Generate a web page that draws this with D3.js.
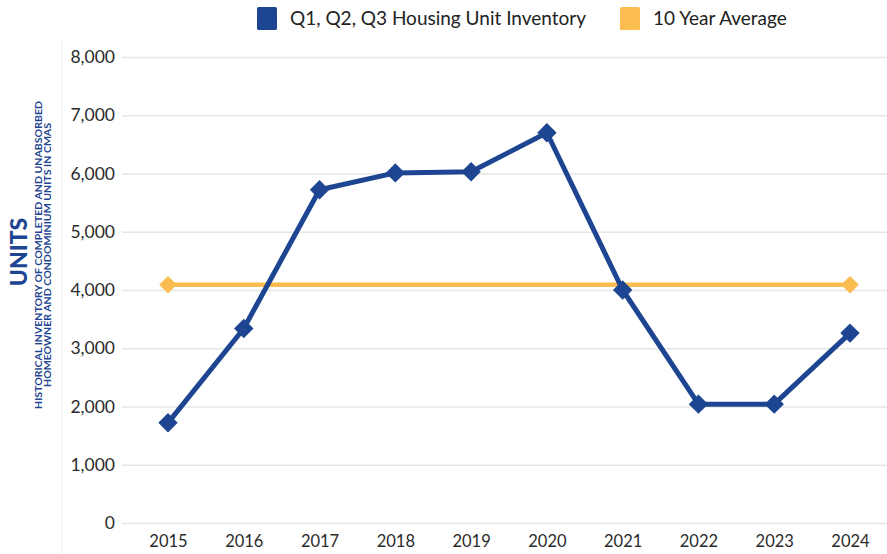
<!DOCTYPE html>
<html>
<head>
<meta charset="utf-8">
<style>
body { margin: 0; background: #fff; }
text { font-family: "Lato", "Open Sans", sans-serif; }
</style>
</head>
<body>
<svg width="887" height="554"></svg>
<script src="https://d3js.org/d3.v7.min.js"></script>
<script>
var years = ["2015", "2016", "2017", "2018", "2019", "2020", "2021", "2022", "2023", "2024"];
var inventory = [1720, 3340, 5720, 6010, 6030, 6700, 4000, 2040, 2040, 3260];
var avgYears = ["2015", "2024"];
var avgValues = [4090, 4090];
var yTicks = [0, 1000, 2000, 3000, 4000, 5000, 6000, 7000, 8000];
var seriesNames = ["Q1, Q2, Q3 Housing Unit Inventory", "10 Year Average"];

var blue = "#1d4591",
    orange = "#fbbd4f";

var svg = d3.select("svg");

var x = d3.scalePoint()
    .domain(years)
    .range([168, 850]);

var y = d3.scaleLinear()
    .domain([0, 8000])
    .range([523, 57]);

// faint left border
svg.append("line")
    .attr("x1", 62).attr("x2", 62)
    .attr("y1", 40).attr("y2", 554)
    .attr("stroke", "#f0f0f0");

// y axis with gridlines
var yAxis = svg.append("g")
    .attr("transform", "translate(122,0)")
    .call(d3.axisLeft(y).tickValues(yTicks).tickSize(-765).tickPadding(7)
        .tickFormat(d3.format(",")));
yAxis.select(".domain").remove();
yAxis.selectAll("line").attr("stroke", "#e6e6e6").attr("stroke-width", 1.5);
yAxis.selectAll("text")
    .attr("fill", "#2b2b2b")
    .attr("font-size", 17.5);

// x axis labels
var xAxis = svg.append("g")
    .attr("transform", "translate(0,523)")
    .call(d3.axisBottom(x).tickSize(0).tickPadding(12));
xAxis.select(".domain").remove();
xAxis.selectAll("text")
    .attr("fill", "#2b2b2b")
    .attr("font-size", 16.5);

// y titles
svg.append("text")
    .attr("transform", "translate(27,252) rotate(-90)")
    .attr("text-anchor", "middle")
    .attr("fill", blue)
    .attr("font-size", 23)
    .attr("font-weight", "900")
    .text("UNITS");

svg.append("text")
    .attr("transform", "translate(42,255) rotate(-90)")
    .attr("text-anchor", "middle")
    .attr("fill", blue)
    .attr("font-size", 8.5)
    .attr("font-weight", "bold")
    .attr("textLength", 308)
    .attr("lengthAdjust", "spacingAndGlyphs")
    .text("HISTORICAL INVENTORY OF COMPLETED AND UNABSORBED");

svg.append("text")
    .attr("transform", "translate(50.5,255) rotate(-90)")
    .attr("text-anchor", "middle")
    .attr("fill", blue)
    .attr("font-size", 8.5)
    .attr("font-weight", "bold")
    .attr("textLength", 264)
    .attr("lengthAdjust", "spacingAndGlyphs")
    .text("HOMEOWNER AND CONDOMINIUM UNITS IN CMAS");

var diamond = d3.symbol().type(d3.symbolDiamond2);

// 10 year average
var avgData = avgYears.map(function(d, i) { return {year: d, value: avgValues[i]}; });
svg.append("path")
    .datum(avgData)
    .attr("fill", "none")
    .attr("stroke", orange)
    .attr("stroke-width", 4.5)
    .attr("d", d3.line().x(function(d) { return x(d.year); }).y(function(d) { return y(d.value); }));
svg.append("g").selectAll("path")
    .data(avgData)
    .enter().append("path")
    .attr("transform", function(d) { return "translate(" + x(d.year) + "," + y(d.value) + ")"; })
    .attr("d", diamond.size(200))
    .attr("fill", orange);

// inventory
var invData = years.map(function(d, i) { return {year: d, value: inventory[i]}; });
svg.append("path")
    .datum(invData)
    .attr("fill", "none")
    .attr("stroke", blue)
    .attr("stroke-width", 5)
    .attr("stroke-linejoin", "round")
    .attr("d", d3.line().x(function(d) { return x(d.year); }).y(function(d) { return y(d.value); }));
svg.append("g").selectAll("path")
    .data(invData)
    .enter().append("path")
    .attr("transform", function(d) { return "translate(" + x(d.year) + "," + y(d.value) + ")"; })
    .attr("d", diamond.size(240))
    .attr("fill", blue);

// legend
var legendX = [257, 620];
var legendColors = [blue, orange];
var legend = svg.append("g").selectAll("g")
    .data(seriesNames)
    .enter().append("g")
    .attr("transform", function(d, i) { return "translate(" + legendX[i] + ",7)"; });
legend.append("rect")
    .attr("width", 20).attr("height", 23)
    .attr("rx", 1.5)
    .attr("fill", function(d, i) { return legendColors[i]; });
legend.append("text")
    .attr("x", 33).attr("y", 18)
    .attr("fill", "#222")
    .attr("font-size", 19)
    .text(function(d) { return d; });
</script>
</body>
</html>
